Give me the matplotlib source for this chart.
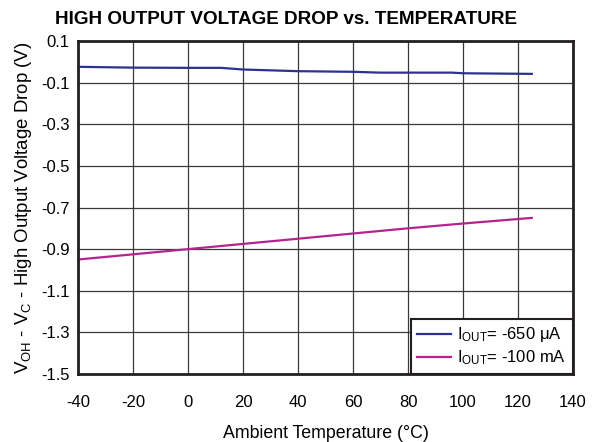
import numpy as np
import matplotlib
matplotlib.use("Agg")
import matplotlib.pyplot as plt

plt.rcParams['font.family'] = ['Liberation Sans', 'DejaVu Sans']
plt.rcParams['mathtext.fontset'] = 'custom'
plt.rcParams['mathtext.rm'] = 'Liberation Sans'
plt.rcParams['axes.unicode_minus'] = False

# IOUT = -650 uA
temp_a = [-40, -20, 0, 12, 20, 40, 60, 70, 80, 96, 100, 125]
drop_a = [-0.024, -0.028, -0.029, -0.029, -0.037, -0.045, -0.048, -0.052, -0.052, -0.052, -0.055, -0.058]

# IOUT = -100 mA
temp_b = [-40, -20, 0, 20, 40, 60, 80, 100, 125]
drop_b = [-0.95, -0.925, -0.90, -0.875, -0.85, -0.825, -0.80, -0.777, -0.75]

xticks = np.arange(-40, 141, 20)
yticks = np.round(np.arange(-1.5, 0.11, 0.2), 1)

fig = plt.figure(figsize=(5.95, 4.42), dpi=100)
ax = fig.add_axes([78/595, 1 - 374/442, 495/595, 333/442])

ax.plot(temp_a, drop_a, color="#2e3192", lw=1.6,
        label=r"$\mathregular{I_{OUT}}$= -650 μA")
ax.plot(temp_b, drop_b, color="#b5238f", lw=1.6,
        label=r"$\mathregular{I_{OUT}}$= -100 mA")

ax.set_xlim(-40, 140)
ax.set_ylim(-1.5, 0.1)
ax.set_xticks(xticks)
ax.set_yticks(yticks)
ax.set_yticklabels([f"{v:.1f}" for v in yticks])
ax.tick_params(length=0, labelsize=12, pad=6)
ax.tick_params(axis='x', pad=15)
ax.grid(True, color="#3a3a3a", lw=0.9)
for s in ax.spines.values():
    s.set_linewidth(2)
    s.set_color("#231f20")

ax.set_xlabel("Ambient Temperature (°C)", fontsize=12.8, labelpad=11)
ax.set_ylabel(r"$\mathregular{V_{OH}}$ - $\mathregular{V_C}$ - High Output Voltage Drop (V)",
              fontsize=13.4, labelpad=5)

fig.text(286/595, 1 - 20/442, "HIGH OUTPUT VOLTAGE DROP vs. TEMPERATURE",
         ha="center", va="center", fontsize=13.6, fontweight="bold")

leg = ax.legend(loc="lower right", fontsize=12, frameon=True, fancybox=False,
                borderaxespad=0, handlelength=2.0, handletextpad=0.4,
                labelspacing=0.25, borderpad=0.4)
leg.get_frame().set_edgecolor("#231f20")
leg.get_frame().set_linewidth(1.5)
leg.get_frame().set_alpha(1)

fig.savefig("out.png", dpi=100)
